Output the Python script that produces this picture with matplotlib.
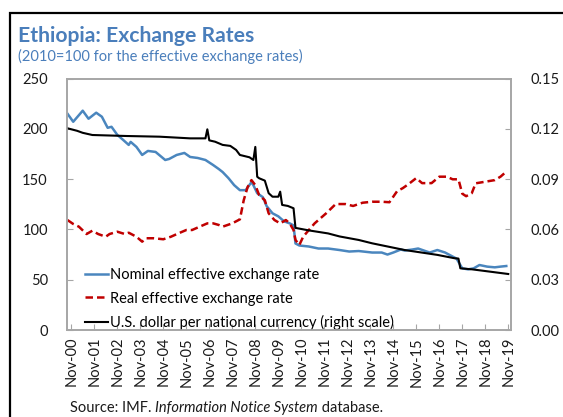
import matplotlib
matplotlib.use("Agg")
import matplotlib.pyplot as plt
import matplotlib.patches as mpatches
import pandas as pd

plt.rcParams['font.family'] = ['Lato', 'DejaVu Sans']

# ---- data (monthly dates, values) ----
neer_dates = ['2000-09', '2000-12', '2001-05', '2001-08', '2001-12', '2002-03', '2002-06',
              '2002-08', '2002-11', '2003-02', '2003-05', '2003-06', '2003-09', '2003-12',
              '2004-03', '2004-07', '2004-12', '2005-02', '2005-06', '2005-10', '2006-01',
              '2006-05', '2006-09', '2007-01', '2007-04', '2007-06', '2007-09', '2007-12',
              '2008-03', '2008-06', '2008-09', '2008-10', '2008-12', '2009-03', '2009-05',
              '2009-08', '2009-11', '2010-02', '2010-05', '2010-07', '2010-08', '2010-10',
              '2011-03', '2011-08', '2012-01', '2012-07', '2012-12', '2013-05', '2013-12',
              '2014-05', '2014-08', '2014-11', '2015-03', '2015-05', '2015-09', '2015-12',
              '2016-03', '2016-06', '2016-10', '2017-02', '2017-06', '2017-08', '2017-11',
              '2018-02', '2018-05', '2018-08', '2018-12', '2019-04', '2019-07', '2019-10']
neer = [215, 207, 218, 210, 216, 212, 201, 202, 194, 189, 184, 187, 182, 174,
        178, 177, 169, 170, 174, 176, 172, 171, 169, 164, 160, 157, 151, 144,
        139, 139, 147, 144, 136, 132, 123, 116, 113, 108, 106, 104, 86, 84,
        83, 81, 81, 79.5, 78, 78.5, 77, 77, 75, 77, 80, 79, 80, 81,
        79, 77, 79.5, 77, 73, 71, 61.3, 60.3, 61.3, 64.6, 63, 62.3, 63, 63.6]

reer_dates = ['2000-09', '2000-12', '2001-03', '2001-07', '2001-10', '2002-01', '2002-05',
              '2002-07', '2002-11', '2003-03', '2003-05', '2003-09', '2003-12', '2004-02',
              '2004-06', '2004-11', '2005-03', '2005-07', '2005-11', '2006-02', '2006-06',
              '2006-10', '2007-01', '2007-04', '2007-06', '2007-11', '2008-03', '2008-05',
              '2008-07', '2008-09', '2008-11', '2009-01', '2009-04', '2009-06', '2009-09',
              '2009-12', '2010-03', '2010-05', '2010-07', '2010-08', '2010-10', '2010-12',
              '2011-03', '2011-06', '2011-12', '2012-05', '2012-10', '2013-02', '2013-07',
              '2013-12', '2014-05', '2014-09', '2015-01', '2015-04', '2015-07', '2015-11',
              '2016-02', '2016-07', '2016-11', '2017-03', '2017-06', '2017-09', '2017-11',
              '2018-01', '2018-04', '2018-06', '2018-11', '2019-04', '2019-07', '2019-10']
reer = [109.3, 105.4, 102.7, 95.4, 98.7, 95.4, 92.7, 95.4, 97.7, 95.4, 96.7, 92.7, 87.8, 91.2,
        91.2, 90.2, 92.7, 96.1, 99.4, 99.4, 102.7, 106, 106, 104.4, 102.7, 106, 110, 129,
        142, 149, 144, 134, 129, 116, 109.3, 106, 109.3, 106, 99.4, 89.5, 84.5, 92.7,
        99.4, 106, 116, 125.2, 125.2, 123.3, 126.5, 127.5, 127.5, 127, 138, 141, 145, 151,
        146, 146, 152.4, 152.4, 149.8, 149.8, 135.5, 133, 136, 145.8, 147.4, 149, 152.4, 157.4]

usd_dates = ['2000-09', '2001-02', '2001-05', '2001-10', '2003-04', '2004-09', '2006-01',
             '2006-09', '2006-10', '2006-11', '2007-02', '2007-06', '2007-10', '2008-01',
             '2008-03', '2008-08', '2008-10', '2008-11', '2008-12', '2009-01', '2009-04',
             '2009-06', '2009-08', '2009-11', '2009-12', '2010-01', '2010-04', '2010-07',
             '2010-08', '2011-03', '2012-01', '2012-07', '2013-05', '2013-12', '2015-05',
             '2016-10', '2017-07', '2017-09', '2017-10', '2018-04', '2019-11']
usd = [0.1203, 0.1188, 0.1176, 0.1163, 0.1157, 0.1153, 0.1143,
       0.1143, 0.1197, 0.1131, 0.1123, 0.1104, 0.1098, 0.1074,
       0.1044, 0.1030, 0.1014, 0.1092, 0.0914, 0.0905, 0.0891,
       0.0816, 0.0795, 0.0795, 0.0825, 0.0746, 0.0740, 0.0726,
       0.0609, 0.0594, 0.0576, 0.0558, 0.0537, 0.0517, 0.0477,
       0.0448, 0.0428, 0.0426, 0.0368, 0.0362, 0.0334]

tick_years = list(range(2000, 2020))
right_ticks = [0, 0.03, 0.06, 0.09, 0.12, 0.15]

BLUE = '#4A86BE'
RED = '#C00000'
TITLE_BLUE = '#4A7EBB'
FRAME_GRAY = '#A6A6A6'


def to_dates(vals):
    return pd.to_datetime(vals, format='%Y-%m')


fig = plt.figure(figsize=(5.63, 4.17), dpi=100)

# outer box of the chart, it runs past the right and bottom image edges
fig.patches.append(mpatches.Rectangle((10 / 563, -0.1), 1.5, 1 - 13 / 417 + 0.1,
                                      transform=fig.transFigure, fill=False,
                                      edgecolor='black', linewidth=1.6))

ax = fig.add_axes([67.3 / 563, 1 - 330 / 417, (510.7 - 67.3) / 563, (330 - 78.5) / 417])
ax2 = ax.twinx()

l1, = ax.plot(to_dates(neer_dates), neer, color=BLUE, lw=1.8,
              label='Nominal effective exchange rate')
l2, = ax.plot(to_dates(reer_dates), reer, color=RED, lw=1.8, ls=(0, (3, 1.6)),
              label='Real effective exchange rate')
l3, = ax2.plot(to_dates(usd_dates), usd, color='black', lw=1.5,
               label='U.S. dollar per national currency (right scale)')

ax.set_ylim(0, 250)
ax.set_yticks(range(0, 251, 50))
ax2.set_ylim(0, 0.15)
ax2.set_yticks(right_ticks)
ax2.set_yticklabels([f'{v:.2f}' for v in right_ticks])

ax.set_xlim(pd.Timestamp('2000-08-29'), pd.Timestamp('2019-12-10'))
ax.set_xticks([pd.Timestamp(f'{y}-11-01') for y in tick_years])
ax.set_xticklabels([f'Nov-{y % 100:02d}' for y in tick_years], rotation=90)

for a in (ax, ax2):
    for s in a.spines.values():
        s.set_color(FRAME_GRAY)
        s.set_linewidth(1.2)
    a.tick_params(direction='in', length=4, color=FRAME_GRAY, labelsize=10.5,
                  labelcolor='#1a1a1a')
ax.tick_params(axis='y', pad=14)
ax2.tick_params(axis='y', pad=14)
ax.tick_params(axis='x', pad=5)

ax.legend(handles=[l1, l2, l3], loc='lower left', bbox_to_anchor=(0.02, -0.035),
          frameon=False, fontsize=10.5, handlelength=1.6, handletextpad=0.1,
          labelspacing=0.65, borderaxespad=0.2)

fig.text(18 / 563, 1 - 36 / 417, 'Ethiopia: Exchange Rates', fontsize=15.2,
         fontweight='bold', color=TITLE_BLUE, va='center', ha='left')
fig.text(18 / 563, 1 - 56 / 417, '(2010=100 for the effective exchange rates)',
         fontsize=10.5, color=TITLE_BLUE, va='center', ha='left')

# source line, database name in italics
renderer = fig.canvas.get_renderer()
x0 = 70 / 563
y0 = 1 - 408 / 417
parts = [('Source: IMF. ', 'normal'), ('Information Notice System', 'italic'),
         (' database.', 'normal')]
for txt, style in parts:
    t = fig.text(x0, y0, txt, fontsize=10.5, style=style, color='#1a1a1a',
                 va='center', ha='left')
    x0 = t.get_window_extent(renderer=renderer).x1 / fig.bbox.width

fig.savefig('out.png', dpi=100)
